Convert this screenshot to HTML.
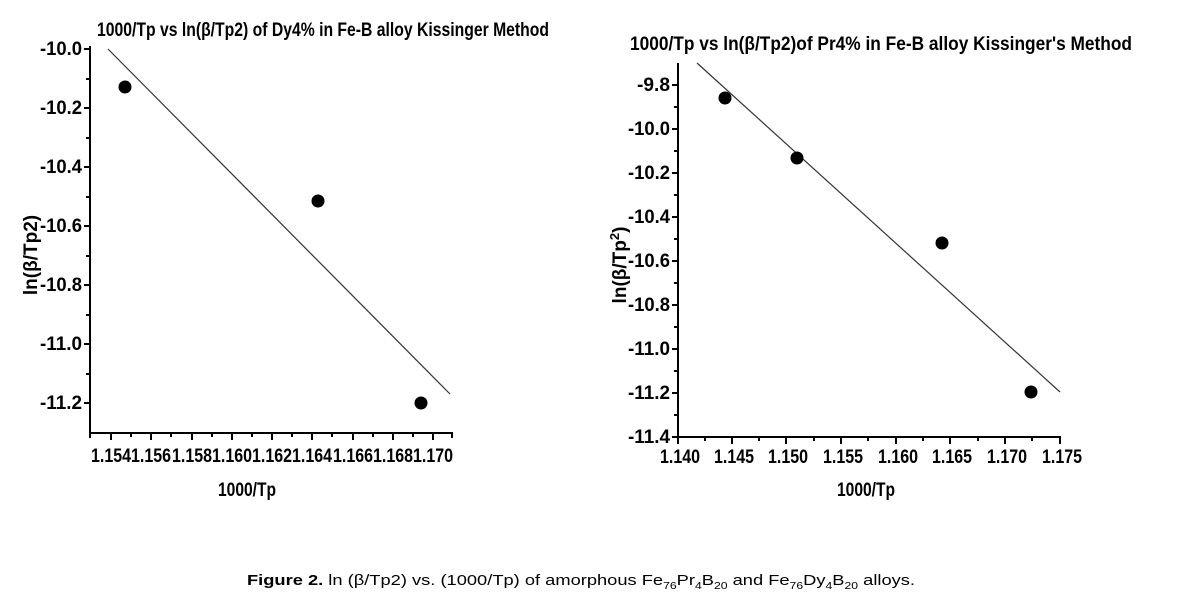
<!DOCTYPE html>
<html><head><meta charset="utf-8"><style>
body{margin:0;background:#fff;width:1195px;height:602px;overflow:hidden}
svg{display:block}
.t{font-family:"Liberation Sans",sans-serif;font-weight:bold;fill:#000}
</style></head><body>
<svg width="1195" height="602" viewBox="0 0 1195 602" xmlns="http://www.w3.org/2000/svg">
<!-- Left chart -->
<text class="t" x="97" y="36" font-size="19" textLength="452" lengthAdjust="spacingAndGlyphs">1000/Tp  vs  ln(β/Tp2) of Dy4% in Fe-B alloy Kissinger Method</text>
<g stroke="#000" stroke-width="2" fill="none">
<line x1="90" y1="46" x2="90" y2="433"/>
<line x1="89" y1="433" x2="453" y2="433"/>
</g>
<g stroke="#000" stroke-width="2">
<line x1="84" y1="49" x2="90" y2="49"/><line x1="86" y1="79" x2="90" y2="79"/>
<line x1="84" y1="108" x2="90" y2="108"/><line x1="86" y1="138" x2="90" y2="138"/>
<line x1="84" y1="167" x2="90" y2="167"/><line x1="86" y1="197" x2="90" y2="197"/>
<line x1="84" y1="226" x2="90" y2="226"/><line x1="86" y1="256" x2="90" y2="256"/>
<line x1="84" y1="285" x2="90" y2="285"/><line x1="86" y1="315" x2="90" y2="315"/>
<line x1="84" y1="344" x2="90" y2="344"/><line x1="86" y1="374" x2="90" y2="374"/>
<line x1="84" y1="403" x2="90" y2="403"/>
<line x1="90" y1="433" x2="90" y2="438"/>
<line x1="111" y1="433" x2="111" y2="440"/><line x1="131" y1="433" x2="131" y2="437"/>
<line x1="151" y1="433" x2="151" y2="440"/><line x1="171" y1="433" x2="171" y2="437"/>
<line x1="192" y1="433" x2="192" y2="440"/><line x1="212" y1="433" x2="212" y2="437"/>
<line x1="232" y1="433" x2="232" y2="440"/><line x1="252" y1="433" x2="252" y2="437"/>
<line x1="272" y1="433" x2="272" y2="440"/><line x1="292" y1="433" x2="292" y2="437"/>
<line x1="312" y1="433" x2="312" y2="440"/><line x1="332" y1="433" x2="332" y2="437"/>
<line x1="353" y1="433" x2="353" y2="440"/><line x1="373" y1="433" x2="373" y2="437"/>
<line x1="393" y1="433" x2="393" y2="440"/><line x1="413" y1="433" x2="413" y2="437"/>
<line x1="433" y1="433" x2="433" y2="440"/><line x1="452" y1="433" x2="452" y2="438"/>
</g>
<g class="t" font-size="19" text-anchor="end">
<text x="82" y="55" textLength="42" lengthAdjust="spacingAndGlyphs">-10.0</text>
<text x="82" y="114" textLength="42" lengthAdjust="spacingAndGlyphs">-10.2</text>
<text x="82" y="173" textLength="42" lengthAdjust="spacingAndGlyphs">-10.4</text>
<text x="82" y="232" textLength="42" lengthAdjust="spacingAndGlyphs">-10.6</text>
<text x="82" y="291" textLength="42" lengthAdjust="spacingAndGlyphs">-10.8</text>
<text x="82" y="350" textLength="42" lengthAdjust="spacingAndGlyphs">-11.0</text>
<text x="82" y="409" textLength="42" lengthAdjust="spacingAndGlyphs">-11.2</text>
</g>
<g class="t" font-size="19" text-anchor="middle">
<text x="111" y="462" textLength="40" lengthAdjust="spacingAndGlyphs">1.154</text>
<text x="151" y="462" textLength="40" lengthAdjust="spacingAndGlyphs">1.156</text>
<text x="192" y="462" textLength="40" lengthAdjust="spacingAndGlyphs">1.158</text>
<text x="232" y="462" textLength="40" lengthAdjust="spacingAndGlyphs">1.160</text>
<text x="272" y="462" textLength="40" lengthAdjust="spacingAndGlyphs">1.162</text>
<text x="312" y="462" textLength="40" lengthAdjust="spacingAndGlyphs">1.164</text>
<text x="353" y="462" textLength="40" lengthAdjust="spacingAndGlyphs">1.166</text>
<text x="393" y="462" textLength="40" lengthAdjust="spacingAndGlyphs">1.168</text>
<text x="433" y="462" textLength="40" lengthAdjust="spacingAndGlyphs">1.170</text>
<text x="247" y="496" textLength="58" lengthAdjust="spacingAndGlyphs">1000/Tp</text>
</g>
<text class="t" font-size="19" text-anchor="middle" transform="translate(37,255) rotate(-90)">ln(β/Tp2)</text>
<line x1="108" y1="49" x2="450" y2="394" stroke="#333" stroke-width="1.2"/>
<g fill="#000"><circle cx="125" cy="87" r="6.5"/><circle cx="318" cy="201" r="6.5"/><circle cx="421" cy="403" r="6.5"/></g>

<!-- Right chart -->
<text class="t" x="630" y="50" font-size="19" textLength="502" lengthAdjust="spacingAndGlyphs">1000/Tp  vs  ln(β/Tp2)of Pr4% in Fe-B alloy Kissinger's Method</text>
<g stroke="#000" stroke-width="2" fill="none">
<line x1="678" y1="63" x2="678" y2="438"/>
<line x1="677" y1="437" x2="1061" y2="437"/>
</g>
<g stroke="#000" stroke-width="2">
<line x1="672" y1="85" x2="678" y2="85"/><line x1="674" y1="107" x2="678" y2="107"/>
<line x1="672" y1="129" x2="678" y2="129"/><line x1="674" y1="151" x2="678" y2="151"/>
<line x1="672" y1="173" x2="678" y2="173"/><line x1="674" y1="195" x2="678" y2="195"/>
<line x1="672" y1="217" x2="678" y2="217"/><line x1="674" y1="239" x2="678" y2="239"/>
<line x1="672" y1="261" x2="678" y2="261"/><line x1="674" y1="283" x2="678" y2="283"/>
<line x1="672" y1="305" x2="678" y2="305"/><line x1="674" y1="327" x2="678" y2="327"/>
<line x1="672" y1="349" x2="678" y2="349"/><line x1="674" y1="371" x2="678" y2="371"/>
<line x1="672" y1="393" x2="678" y2="393"/><line x1="674" y1="415" x2="678" y2="415"/>
<line x1="672" y1="437" x2="678" y2="437"/>
<line x1="678" y1="437" x2="678" y2="444"/><line x1="705" y1="437" x2="705" y2="441"/>
<line x1="732" y1="437" x2="732" y2="444"/><line x1="759" y1="437" x2="759" y2="441"/>
<line x1="786" y1="437" x2="786" y2="444"/><line x1="814" y1="437" x2="814" y2="441"/>
<line x1="841" y1="437" x2="841" y2="444"/><line x1="868" y1="437" x2="868" y2="441"/>
<line x1="896" y1="437" x2="896" y2="444"/><line x1="923" y1="437" x2="923" y2="441"/>
<line x1="950" y1="437" x2="950" y2="444"/><line x1="978" y1="437" x2="978" y2="441"/>
<line x1="1005" y1="437" x2="1005" y2="444"/><line x1="1032" y1="437" x2="1032" y2="441"/>
<line x1="1060" y1="437" x2="1060" y2="444"/>
</g>
<g class="t" font-size="19" text-anchor="end">
<text x="670" y="91" textLength="33" lengthAdjust="spacingAndGlyphs">-9.8</text>
<text x="670" y="135" textLength="42" lengthAdjust="spacingAndGlyphs">-10.0</text>
<text x="670" y="179" textLength="42" lengthAdjust="spacingAndGlyphs">-10.2</text>
<text x="670" y="223" textLength="42" lengthAdjust="spacingAndGlyphs">-10.4</text>
<text x="670" y="267" textLength="42" lengthAdjust="spacingAndGlyphs">-10.6</text>
<text x="670" y="311" textLength="42" lengthAdjust="spacingAndGlyphs">-10.8</text>
<text x="670" y="355" textLength="42" lengthAdjust="spacingAndGlyphs">-11.0</text>
<text x="670" y="399" textLength="42" lengthAdjust="spacingAndGlyphs">-11.2</text>
<text x="670" y="443" textLength="42" lengthAdjust="spacingAndGlyphs">-11.4</text>
</g>
<g class="t" font-size="19" text-anchor="middle">
<text x="680" y="463" textLength="40" lengthAdjust="spacingAndGlyphs">1.140</text>
<text x="734" y="463" textLength="40" lengthAdjust="spacingAndGlyphs">1.145</text>
<text x="788" y="463" textLength="40" lengthAdjust="spacingAndGlyphs">1.150</text>
<text x="843" y="463" textLength="40" lengthAdjust="spacingAndGlyphs">1.155</text>
<text x="898" y="463" textLength="40" lengthAdjust="spacingAndGlyphs">1.160</text>
<text x="952" y="463" textLength="40" lengthAdjust="spacingAndGlyphs">1.165</text>
<text x="1007" y="463" textLength="40" lengthAdjust="spacingAndGlyphs">1.170</text>
<text x="1062" y="463" textLength="40" lengthAdjust="spacingAndGlyphs">1.175</text>
<text x="866" y="496" textLength="58" lengthAdjust="spacingAndGlyphs">1000/Tp</text>
</g>
<text class="t" font-size="19" text-anchor="middle" transform="translate(626,265) rotate(-90)">ln(β/Tp<tspan font-size="13" dy="-7">2</tspan><tspan dy="7">)</tspan></text>
<line x1="697" y1="63" x2="1060" y2="392" stroke="#333" stroke-width="1.2"/>
<g fill="#000"><circle cx="725" cy="98" r="6.5"/><circle cx="797" cy="158" r="6.5"/><circle cx="942" cy="243" r="6.5"/><circle cx="1031" cy="392" r="6.5"/></g>

<!-- Caption -->
<text x="247" y="585" font-family="'Liberation Sans',sans-serif" font-size="15" fill="#000" textLength="668" lengthAdjust="spacingAndGlyphs"><tspan font-weight="bold">Figure 2.</tspan> ln (β/Tp2) vs. (1000/Tp) of amorphous Fe<tspan font-size="10" dy="4">76</tspan><tspan dy="-4">Pr</tspan><tspan font-size="10" dy="4">4</tspan><tspan dy="-4">B</tspan><tspan font-size="10" dy="4">20</tspan><tspan dy="-4"> and Fe</tspan><tspan font-size="10" dy="4">76</tspan><tspan dy="-4">Dy</tspan><tspan font-size="10" dy="4">4</tspan><tspan dy="-4">B</tspan><tspan font-size="10" dy="4">20</tspan><tspan dy="-4"> alloys.</tspan></text>
</svg>
</body></html>
